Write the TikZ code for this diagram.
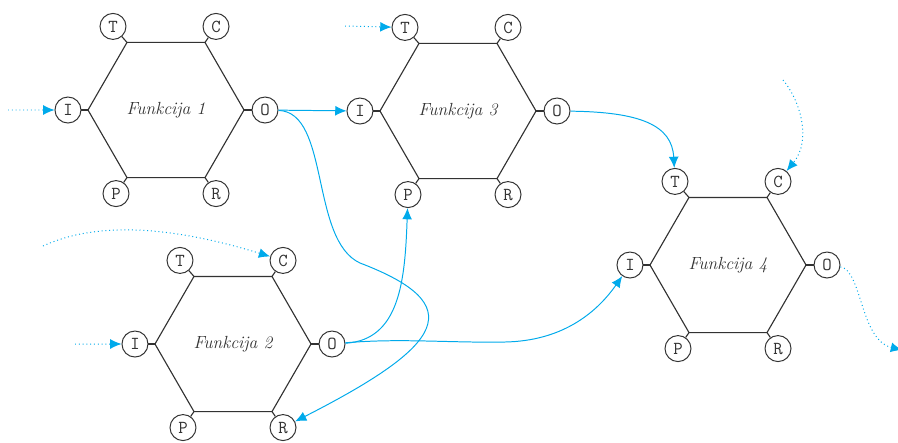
\documentclass[tikz,border=0pt]{standalone}
\usetikzlibrary{shapes.geometric,arrows.meta,calc}
\definecolor{flow}{RGB}{0,170,235}
\definecolor{ink}{RGB}{50,50,50}
\tikzset{
  hexa/.style={draw=ink, line width=0.8pt, regular polygon, regular polygon sides=6,
    minimum size=3.9cm, inner sep=0pt, outer sep=0pt,
    font=\fontsize{12.5}{14}\selectfont\itshape, text=ink},
  port/.style={circle, draw=ink, line width=0.7pt, fill=white, minimum size=0.65cm,
    inner sep=0pt, font=\fontsize{13}{14}\selectfont\ttfamily, text=ink},
  stub/.style={draw=ink, line width=0.8pt},
  link/.style={draw=flow, line width=0.7pt, -{Latex[length=8pt,width=7pt]}},
  ext/.style={link, dash pattern=on 0.7pt off 2pt},
}
\begin{document}
\begin{tikzpicture}[x=0.025cm,y=-0.025cm]
\useasboundingbox (0,0) rectangle (898,442);

% four FRAM functions with their six aspects
\foreach \n/\x/\y in {1/166/110, 2/233/344, 3/458/111, 4/728/265}{
  \node[hexa] (f\n) at (\x,\y) {Funkcija \n};
  \node[port] (t\n) at ($(f\n.120)+(-14,-16)$) {T};
  \node[port] (c\n) at ($(f\n.60)+(11,-16)$) {C};
  \node[port] (i\n) at ($(f\n.180)+(-20,0)$) {I};
  \node[port] (o\n) at ($(f\n.0)+(21,0)$) {O};
  \node[port] (p\n) at ($(f\n.240)+(-11,16)$) {P};
  \node[port] (r\n) at ($(f\n.300)+(11,16)$) {R};
  \draw[stub] (f\n.120) -- (t\n);
  \draw[stub] (f\n.60) -- (c\n);
  \draw[stub] (f\n.180) -- (i\n);
  \draw[stub] (f\n.0) -- (o\n);
  \draw[stub] (f\n.240) -- (p\n);
  \draw[stub] (f\n.300) -- (r\n);
}

% couplings between functions
\draw[link] (o1) -- (i3);
\draw[link] (o1) .. controls (330,112) and (310,240) .. (360,263)
                 .. controls (470,305) and (445,345) .. (r2);
\draw[link] (o2) .. controls (400,340) and (405,280) .. (p3);
\draw[link] (o2) .. controls (400,338) and (450,343) .. (505,342)
                 .. controls (560,341) and (595,315) .. (i4);
\draw[link] (o3) .. controls (640,112) and (672,125) .. (t4);

% links to the surroundings
\coordinate (s1) at (8,110);
\coordinate (s3) at (345,26);
\coordinate (s2c) at (43,246);
\coordinate (s4c) at (783,80);
\coordinate (s2i) at (75,344);
\coordinate (e4) at (902,350);
\draw[ext] (s1) -- (i1);
\draw[ext] (s3) -- (t3);
\draw[ext] (s2c) .. controls (110,215) and (200,235) .. (c2);
\draw[ext] (s4c) .. controls (800,100) and (812,140) .. (c4);
\draw[ext] (s2i) -- (i2);
\draw[ext] (o4) .. controls (862,270) and (860,340) .. (e4);
\end{tikzpicture}
\end{document}
